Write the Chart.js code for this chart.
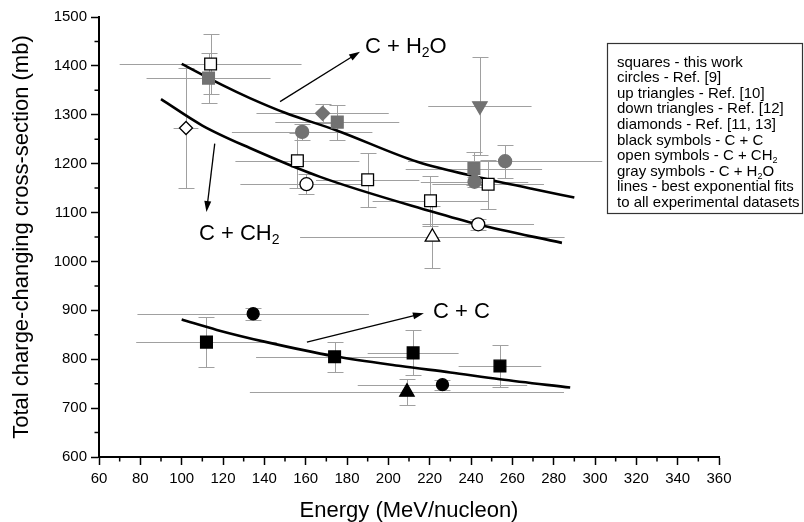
<!DOCTYPE html>
<html>
<head>
<meta charset="utf-8">
<title>Total charge-changing cross-section</title>
<script src="https://cdn.jsdelivr.net/npm/chart.js@4.4.1/dist/chart.umd.min.js"></script>
<style>
  body { margin: 0; background: #fff; }
  canvas { display: block; }
</style>
</head>
<body>
<canvas id="grafico" width="804" height="522"></canvas>
<script>
// C + C (black symbols)
const ccSqE = [112, 174, 212, 254];
const ccSqV = [835, 805, 813, 786];
const ccSqErrE = [34, 38, 22, 20];
const ccSqErrV = [51, 31, 46, 43];

const ccCircE = [134.6, 226.2];
const ccCircV = [893, 748];
const ccCircErrE = [56, 41];
const ccCircErrV = [12, 10];

const ccTriE = [209];
const ccTriV = [733];
const ccTriErrE = [76];
const ccTriErrV = [27];

// C + CH2 (open symbols)
const ch2SqE = [114, 156, 190, 220.4, 248.3];
const ch2SqV = [1404, 1206, 1167, 1124, 1158];
const ch2SqErrE = [44, 30, 25, 28, 27];
const ch2SqErrV = [61, 56, 55, 51, 50];

const ch2CircE = [160.4, 243.5];
const ch2CircV = [1158, 1076];
const ch2CircErrE = [32, 27];
const ch2CircErrV = [20, 11];

const ch2TriE = [221.3];
const ch2TriV = [1050];
const ch2TriErrE = [64];
const ch2TriErrV = [64];

const ch2DiaE = [102.1];
const ch2DiaV = [1273];
const ch2DiaErrE = [6];
const ch2DiaErrV = [122];

// C + H2O (gray symbols)
const h2oSqE = [113, 175.3, 241.4];
const h2oSqV = [1375, 1285, 1190];
const h2oSqErrE = [30, 30, 33];
const h2oSqErrV = [51, 36, 34];

const h2oCircE = [158.3, 241.7, 256.5];
const h2oCircV = [1265, 1163, 1205];
const h2oCircErrE = [34, 26, 47];
const h2oCircErrV = [17, 10, 34];

const h2oDownE = [244.3];
const h2oDownV = [1318];
const h2oDownErrE = [25];
const h2oDownErrV = [100];

const h2oDiaE = [168.2];
const h2oDiaV = [1303];
const h2oDiaErrE = [32];
const h2oDiaErrV = [19];

// exponential fit lines
const fitH2oE = [100, 120, 133, 150, 175, 214, 246, 270, 290];
const fitH2oV = [1404, 1360, 1334, 1304, 1268, 1204, 1170, 1148, 1131];
const fitCh2E = [90, 110, 133, 167, 221, 243, 284];
const fitCh2V = [1332, 1278, 1232, 1173, 1102, 1076, 1038];
const fitCcE = [100, 117, 140, 174, 206, 230, 254, 288];
const fitCcV = [881, 860, 836, 806, 786, 773, 759, 742];

// annotations: label anchor and arrow (energy, cross-section)
const etiquetaH2o = [['C + H'], ['2', 1], ['O']];
const etiquetaCh2 = [['C + CH'], ['2', 1]];
const etiquetaCc = [['C + C']];
const posEtiquetas = [[188.7, 1443], [108.4, 1060], [221.6, 900]];
const flechaDesde = [[147.6, 1327], [116, 1241], [160.6, 835]];
const flechaHasta = [[186.3, 1429], [112, 1101], [217.2, 894]];

const leyendaLineas = [
  [['squares - this work']],
  [['circles - Ref. [9]']],
  [['up triangles - Ref. [10]']],
  [['down triangles - Ref. [12]']],
  [['diamonds - Ref. [11, 13]']],
  [['black symbols - C + C']],
  [['open symbols - C + CH'], ['2', 1]],
  [['gray symbols - C + H'], ['2', 1], ['O']],
  [['lines - best exponential fits']],
  [['to all experimental datasets']]
];

const FUENTE = '"Liberation Sans", Arial, sans-serif';
const GRIS = '#727272';

function puntos(xs, ys) {
  return xs.map((x, i) => ({ x: x, y: ys[i] }));
}

const gruposError = [
  [ccSqE, ccSqV, ccSqErrE, ccSqErrV],
  [ccCircE, ccCircV, ccCircErrE, ccCircErrV],
  [ccTriE, ccTriV, ccTriErrE, ccTriErrV],
  [ch2SqE, ch2SqV, ch2SqErrE, ch2SqErrV],
  [ch2CircE, ch2CircV, ch2CircErrE, ch2CircErrV],
  [ch2TriE, ch2TriV, ch2TriErrE, ch2TriErrV],
  [ch2DiaE, ch2DiaV, ch2DiaErrE, ch2DiaErrV],
  [h2oSqE, h2oSqV, h2oSqErrE, h2oSqErrV],
  [h2oCircE, h2oCircV, h2oCircErrE, h2oCircErrV],
  [h2oDownE, h2oDownV, h2oDownErrE, h2oDownErrV],
  [h2oDiaE, h2oDiaV, h2oDiaErrE, h2oDiaErrV]
];

const barrasError = {
  id: 'barrasError',
  beforeDatasetsDraw(chart) {
    const { ctx, scales: { x, y } } = chart;
    ctx.save();
    ctx.strokeStyle = '#a0a0a0';
    ctx.lineWidth = 1;
    gruposError.forEach(([es, vs, des, dvs]) => {
      es.forEach((e, i) => {
        const px = Math.round(x.getPixelForValue(e)) + 0.5;
        const py = Math.round(y.getPixelForValue(vs[i])) + 0.5;
        const x1 = x.getPixelForValue(e - des[i]);
        const x2 = x.getPixelForValue(e + des[i]);
        const y1 = Math.round(y.getPixelForValue(vs[i] + dvs[i])) + 0.5;
        const y2 = Math.round(y.getPixelForValue(vs[i] - dvs[i])) + 0.5;
        ctx.beginPath();
        ctx.moveTo(x1, py); ctx.lineTo(x2, py);
        ctx.moveTo(px, y1); ctx.lineTo(px, y2);
        ctx.moveTo(px - 8, y1); ctx.lineTo(px + 8, y1);
        ctx.moveTo(px - 8, y2); ctx.lineTo(px + 8, y2);
        ctx.stroke();
      });
    });
    ctx.restore();
  }
};

// short minor ticks halfway between the labelled ones
const ticksMenores = {
  id: 'ticksMenores',
  afterDraw(chart) {
    const { ctx, scales: { x, y } } = chart;
    ctx.save();
    ctx.strokeStyle = '#000';
    ctx.lineWidth = 1.5;
    ctx.beginPath();
    for (let v = x.min + 10; v < x.max; v += 20) {
      const px = x.getPixelForValue(v);
      ctx.moveTo(px, x.top); ctx.lineTo(px, x.top + 4.5);
    }
    for (let v = y.min + 50; v < y.max; v += 100) {
      const py = y.getPixelForValue(v);
      ctx.moveTo(y.right, py); ctx.lineTo(y.right - 4.5, py);
    }
    ctx.stroke();
    ctx.restore();
  }
};

function textoConSub(ctx, partes, x, yBase, tam) {
  let cx = x;
  partes.forEach(([txt, sub]) => {
    if (sub) {
      ctx.font = Math.round(tam * 0.62) + 'px ' + FUENTE;
      ctx.fillText(txt, cx, yBase + tam * 0.2);
    } else {
      ctx.font = tam + 'px ' + FUENTE;
      ctx.fillText(txt, cx, yBase);
    }
    cx += ctx.measureText(txt).width;
  });
}

function flecha(ctx, x0, y0, x1, y1) {
  const a = Math.atan2(y1 - y0, x1 - x0);
  const c = Math.cos(a), s = Math.sin(a);
  ctx.beginPath();
  ctx.moveTo(x0, y0);
  ctx.lineTo(x1 - 8 * c, y1 - 8 * s);
  ctx.stroke();
  ctx.beginPath();
  ctx.moveTo(x1, y1);
  ctx.lineTo(x1 - 11 * c + 3.5 * s, y1 - 11 * s - 3.5 * c);
  ctx.lineTo(x1 - 11 * c - 3.5 * s, y1 - 11 * s + 3.5 * c);
  ctx.closePath();
  ctx.fill();
}

const anotaciones = {
  id: 'anotaciones',
  afterDraw(chart) {
    const { ctx, scales: { x, y } } = chart;
    ctx.save();
    ctx.fillStyle = '#000';
    ctx.strokeStyle = '#000';
    ctx.lineWidth = 1.3;
    ctx.textBaseline = 'alphabetic';
    ctx.textAlign = 'left';

    const etiquetas = [etiquetaH2o, etiquetaCh2, etiquetaCc];
    etiquetas.forEach((partes, i) => {
      const tx = x.getPixelForValue(posEtiquetas[i][0]);
      const ty = y.getPixelForValue(posEtiquetas[i][1]);
      textoConSub(ctx, partes, tx, ty + 22 * 0.358, 22);
      flecha(ctx,
        x.getPixelForValue(flechaDesde[i][0]), y.getPixelForValue(flechaDesde[i][1]),
        x.getPixelForValue(flechaHasta[i][0]), y.getPixelForValue(flechaHasta[i][1]));
    });

    // legend box on the right
    ctx.lineWidth = 1.2;
    ctx.strokeStyle = '#333';
    ctx.strokeRect(607.5, 43.5, 195, 170);
    leyendaLineas.forEach((partes, i) => {
      textoConSub(ctx, partes, 617, 66.5 + i * 15.6, 15);
    });
    ctx.restore();
  }
};

const negro = { borderColor: '#000', backgroundColor: '#000' };
const abierto = { borderColor: '#000', backgroundColor: '#fff' };
const gris = { borderColor: GRIS, backgroundColor: GRIS };

function serieMarcas(xs, ys, estilo, forma, radio, rot) {
  return {
    data: puntos(xs, ys),
    showLine: false,
    pointStyle: forma,
    pointRadius: radio,
    pointRotation: rot || 0,
    pointBorderWidth: 1.3,
    pointBackgroundColor: estilo.backgroundColor,
    pointBorderColor: estilo.borderColor
  };
}

function serieAjuste(xs, ys) {
  return {
    data: puntos(xs, ys),
    showLine: true,
    borderColor: '#000',
    borderWidth: 2.6,
    pointRadius: 0,
    cubicInterpolationMode: 'monotone',
    fill: false
  };
}

new Chart(document.getElementById('grafico'), {
  type: 'scatter',
  data: {
    datasets: [
      serieMarcas(h2oSqE, h2oSqV, gris, 'rect', 8.3),
      serieMarcas(h2oCircE, h2oCircV, gris, 'circle', 6.5),
      serieMarcas(h2oDownE, h2oDownV, gris, 'triangle', 8.3, 180),
      serieMarcas(h2oDiaE, h2oDiaV, gris, 'rectRot', 7),
      serieMarcas(ch2SqE, ch2SqV, abierto, 'rect', 8.3),
      serieMarcas(ch2CircE, ch2CircV, abierto, 'circle', 6.5),
      serieMarcas(ch2TriE, ch2TriV, abierto, 'triangle', 8.3),
      serieMarcas(ch2DiaE, ch2DiaV, abierto, 'rectRot', 6.5),
      serieMarcas(ccSqE, ccSqV, negro, 'rect', 8.3),
      serieMarcas(ccCircE, ccCircV, negro, 'circle', 6),
      serieMarcas(ccTriE, ccTriV, negro, 'triangle', 8.3),
      serieAjuste(fitH2oE, fitH2oV),
      serieAjuste(fitCh2E, fitCh2V),
      serieAjuste(fitCcE, fitCcV)
    ]
  },
  options: {
    responsive: false,
    devicePixelRatio: 1,
    animation: false,
    layout: { padding: { top: 17, right: 85, bottom: 0, left: 0 } },
    plugins: {
      legend: { display: false },
      tooltip: { enabled: false }
    },
    scales: {
      x: {
        type: 'linear',
        min: 60,
        max: 360,
        afterFit(scale) { scale.height = 65; },
        border: { display: true, color: '#000', width: 2 },
        grid: { drawOnChartArea: false, drawTicks: true, tickLength: 8, tickColor: '#000', tickWidth: 1.5 },
        ticks: {
          stepSize: 20,
          autoSkip: false,
          maxRotation: 0,
          padding: 5,
          color: '#000',
          font: { family: FUENTE, size: 15 },
          callback: v => String(v)
        },
        title: {
          display: true,
          text: 'Energy (MeV/nucleon)',
          color: '#000',
          font: { family: FUENTE, size: 22, lineHeight: 1 },
          padding: { top: 0, bottom: 0 }
        }
      },
      y: {
        type: 'linear',
        min: 600,
        max: 1500,
        afterFit(scale) { scale.width = 99; },
        border: { display: true, color: '#000', width: 2 },
        grid: { drawOnChartArea: false, drawTicks: true, tickLength: 8, tickColor: '#000', tickWidth: 1.5 },
        ticks: {
          stepSize: 100,
          autoSkip: false,
          padding: 4,
          color: '#000',
          font: { family: FUENTE, size: 15 },
          callback: v => String(v)
        },
        title: {
          display: true,
          text: 'Total charge-changing cross-section (mb)',
          color: '#000',
          font: { family: FUENTE, size: 22, lineHeight: 1 },
          padding: { top: 11, bottom: 0 }
        }
      }
    }
  },
  plugins: [barrasError, ticksMenores, anotaciones]
});
</script>
</body>
</html>
